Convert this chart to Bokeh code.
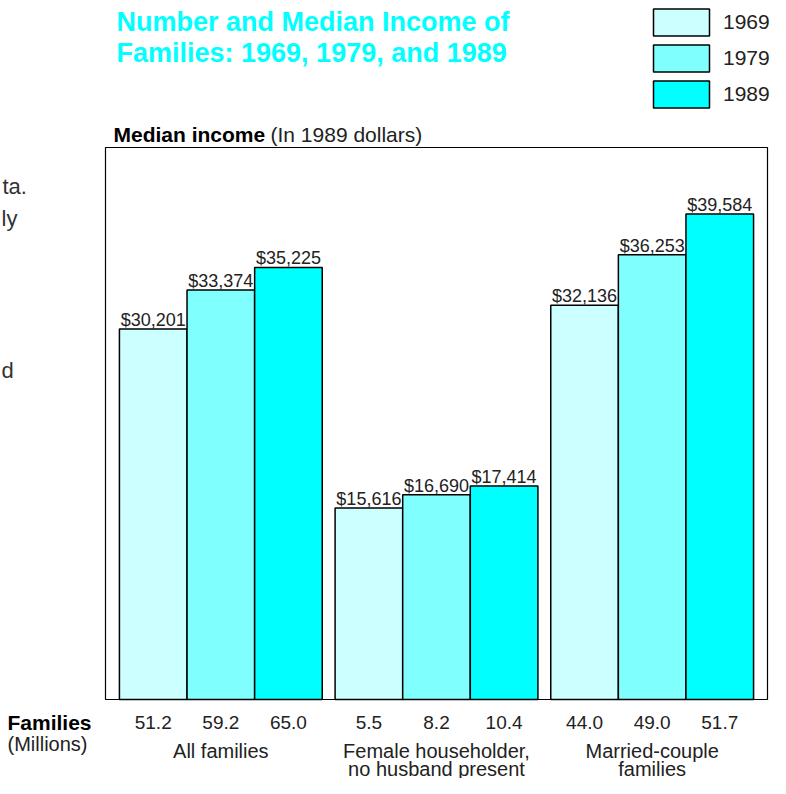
from bokeh.plotting import figure
from bokeh.models import (Range1d, Label, LabelSet, ColumnDataSource, Legend,
                          LegendItem, BoxAnnotation)
from bokeh.core.properties import value
from bokeh.embed import file_html
from bokeh.resources import INLINE

# ---- data ----
groups = ["All families", "Female householder, no husband present", "Married-couple families"]
group_lines = [["All families"], ["Female householder,", "no husband present"], ["Married-couple", "families"]]
years = ["1969", "1979", "1989"]
income_1969 = [30201, 15616, 32136]
income_1979 = [33374, 16690, 36253]
income_1989 = [35225, 17414, 39584]
families_1969 = ["51.2", "5.5", "44.0"]
families_1979 = ["59.2", "8.2", "49.0"]
families_1989 = ["65.0", "10.4", "51.7"]
y_max = 45000

colors = ["#CCFFFF", "#80FFFF", "#00FFFF"]
FONT = "Liberation Sans"
TXT = "#222222"

W, H = 770, 778
BOX_L, BOX_R, BOX_T, BOX_B = 105, 767, 147, 699   # chart box in canvas pixels
GAP = 0.19
MARGIN = 0.206
x_lo = -MARGIN
x_hi = 2 * (3 + GAP) + 3 + MARGIN
ppu = (BOX_R - BOX_L) / (x_hi - x_lo)
k = y_max / (BOX_B - BOX_T)

def xpos(gi, j):
    return gi * (3 + GAP) + j + 0.5

p = figure(width=W, height=H, output_backend="svg", toolbar_location=None,
           x_axis_location=None, y_axis_location=None,
           x_range=Range1d(x_lo - BOX_L / ppu, x_hi + (W - BOX_R) / ppu),
           y_range=Range1d(-(H - BOX_B) * k, BOX_B * k),
           min_border=0)
p.xgrid.visible = False
p.ygrid.visible = False
p.outline_line_color = None
p.background_fill_color = "white"
p.border_fill_color = "white"

# chart frame
p.add_layout(BoxAnnotation(left=x_lo, right=x_hi, bottom=0, top=y_max,
                           fill_color=None, fill_alpha=0, line_color="black",
                           line_alpha=1.0, line_width=1.2, level="underlay"))

series = [income_1969, income_1979, income_1989]
fams = [families_1969, families_1979, families_1989]
items = []

def sy(canvas_y):
    return H - canvas_y

for j, (vals, fam) in enumerate(zip(series, fams)):
    xs = [xpos(gi, j) for gi in range(len(groups))]
    src = ColumnDataSource(dict(x=xs, top=vals,
                                lab=["${:,}".format(v) for v in vals],
                                fam=fam))
    r = p.vbar(x="x", top="top", width=1.0, bottom=0, source=src,
               fill_color=colors[j], line_color="black", line_width=1.5)
    items.append(LegendItem(label=years[j], renderers=[r]))
    p.add_layout(LabelSet(x="x", y="top", text="lab", source=src, y_offset=3,
                          text_align="center", text_baseline="alphabetic",
                          text_font=value(FONT), text_font_size=value("18px"),
                          text_color=TXT))
    p.add_layout(LabelSet(x="x", y=sy(722), y_units="screen", text="fam", source=src,
                          text_align="center", text_baseline="middle",
                          text_font=value(FONT), text_font_size=value("19px"),
                          text_color=TXT))

# group labels
for gi, lines in enumerate(group_lines):
    xc = xpos(gi, 1)
    for n, ln in enumerate(lines):
        p.add_layout(Label(x=xc, y=sy(750 + 18 * n), y_units="screen", text=ln,
                           text_align="center", text_baseline="middle",
                           text_font=FONT, text_font_size="20px", text_color=TXT))

def slabel(x, y, text, size, bold=False, color=TXT, baseline="middle", align="left"):
    p.add_layout(Label(x=x, y=sy(y), x_units="screen", y_units="screen", text=text,
                       text_align=align, text_baseline=baseline,
                       text_font=FONT, text_font_size=size,
                       text_font_style="bold" if bold else "normal",
                       text_color=color))

slabel(7, 722, "Families", "21px", bold=True, color="black")
slabel(7, 743, "(Millions)", "20px")

slabel(113, 134, "Median income", "21px", bold=True, color="black", baseline="alphabetic")
slabel(270, 134, "(In 1989 dollars)", "21px", baseline="alphabetic")

slabel(116, 21, "Number and Median Income of", "27px", bold=True, color="#00FFFF", baseline="alphabetic")
slabel(116, 52, "Families:  1969, 1979, and 1989", "27px", bold=True, color="#00FFFF", baseline="alphabetic")

# fragments of the neighbouring text column
slabel(2, 186, "ta.", "22px", color="#333333")
slabel(1, 218, "ly", "22px", color="#333333")
slabel(1, 370, "d", "22px", color="#333333")

legend = Legend(items=items, location=(646, sy(111)), orientation="vertical",
                glyph_width=70, glyph_height=34, label_height=34, spacing=2,
                label_standoff=7, padding=0, margin=0,
                border_line_color=None, background_fill_alpha=0,
                label_text_font=FONT, label_text_font_size="21px", label_text_color=TXT)
p.add_layout(legend, "center")

open("out.html", "w").write(file_html(p, INLINE))
